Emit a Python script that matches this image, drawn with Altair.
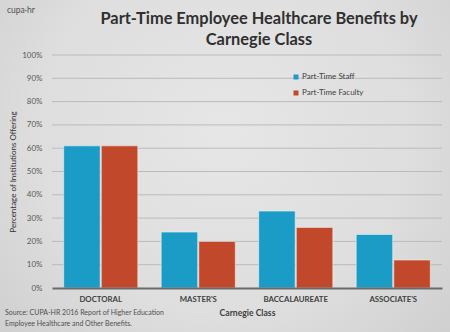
import altair as alt
import pandas as pd

categories = ["DOCTORAL", "MASTER'S", "BACCALAUREATE", "ASSOCIATE'S"]
series = ["Part-Time Staff", "Part-Time Faculty"]
staff = [61, 24, 33, 23]
faculty = [61, 20, 26, 12]
y_ticks = [0, 10, 20, 30, 40, 50, 60, 70, 80, 90, 100]
colors = ["#1B9CC6", "#C1482A"]
title_lines = ["Part-Time Employee Healthcare Benefits by", "Carnegie Class"]
source_lines = ["Source: CUPA-HR 2016 Report of Higher Education",
                "Employee Healthcare and Other Benefits."]

rows = []
for c, s, f in zip(categories, staff, faculty):
    rows.append({"cls": c, "series": series[0], "pct": s})
    rows.append({"cls": c, "series": series[1], "pct": f})
df = pd.DataFrame(rows)

FONT = "Lato"
YSCALE = alt.Scale(domain=[0, 100])

bg = alt.Chart(pd.DataFrame({"k": [0]})).mark_rect(
    color=alt.RadialGradient(
        gradient="radial", x1=0.5, y1=0.42, r1=0, x2=0.5, y2=0.42, r2=0.75,
        stops=[alt.GradientStop(color="#E6E6E6", offset=0),
               alt.GradientStop(color="#DEDEDE", offset=0.55),
               alt.GradientStop(color="#CBCBCB", offset=1)])
).encode(x=alt.value(-52), x2=alt.value(398), y=alt.value(-55), y2=alt.value(277))

grid = alt.Chart(pd.DataFrame({"v": y_ticks[1:]})).mark_rule(
    color="#BBBBBB", strokeWidth=1).encode(
    x=alt.value(0), x2=alt.value(390),
    y=alt.Y("v:Q", scale=YSCALE, axis=None),
)

bars = alt.Chart(df).mark_bar(stroke="#F2F2F2", strokeWidth=0.8, strokeOpacity=0.7).encode(
    x=alt.X("cls:N", sort=categories,
            scale=alt.Scale(paddingInner=0.24, paddingOuter=0.12),
            axis=alt.Axis(title="Carnegie Class", labelAngle=0, labelFont=FONT,
                          labelFontSize=7.8, labelFontWeight="bold", labelColor="#404040",
                          labelPadding=7, titleFont=FONT, titleFontSize=8.6,
                          titleFontWeight="bold", titleColor="#404040", titlePadding=6,
                          ticks=False, domain=True, domainColor="#6A6A6A",
                          domainWidth=2, zindex=1)),
    xOffset=alt.XOffset("series:N", sort=series, scale=alt.Scale(paddingInner=0.03)),
    y=alt.Y("pct:Q", scale=YSCALE,
            axis=alt.Axis(values=y_ticks, labelExpr="datum.value + '%'",
                          title="Percentage of Institutions Offering",
                          labelFont=FONT, labelFontSize=8, labelColor="#595959",
                          labelPadding=10, ticks=False, domain=False, grid=False,
                          titleFont=FONT, titleFontSize=8, titleFontWeight="normal",
                          titleColor="#303030", titlePadding=4, zindex=1)),
    color=alt.Color("series:N", sort=series,
                    scale=alt.Scale(domain=series, range=colors),
                    legend=alt.Legend(title=None, orient="none", legendX=240, legendY=18,
                                      symbolType="square", symbolSize=25,
                                      labelFont=FONT, labelFontSize=8, labelOffset=2,
                                      labelColor="#404040", rowPadding=8,
                                      symbolStrokeWidth=0)),
)

src = pd.DataFrame({"line": source_lines, "i": [0, 1]})
source = alt.Chart(src).mark_text(align="left", baseline="middle", font=FONT,
                                  fontSize=7, color="#505050").encode(
    x=alt.value(-47),
    y=alt.Y("i:Q", scale=alt.Scale(domain=[0, 1], range=[258, 269]), axis=None),
    text="line:N",
)

ttl = pd.DataFrame({"line": title_lines, "i": [0, 1]})
title = alt.Chart(ttl).mark_text(align="center", baseline="middle", font=FONT,
                                 fontSize=16.4, fontWeight="bold", color="#303030").encode(
    x=alt.value(207),
    y=alt.Y("i:Q", scale=alt.Scale(domain=[0, 1], range=[-36, -15]), axis=None),
    text="line:N",
)

logo = alt.Chart(pd.DataFrame({"t": ["cupa·hr"]})).mark_text(
    align="left", baseline="middle", font=FONT, fontSize=8.5,
    color="#505050").encode(x=alt.value(-45), y=alt.value(-45), text="t:N")

chart = alt.layer(bg, grid, bars, source, title, logo).properties(
    width=390, height=233,
    background="#DADADA",
    autosize=alt.AutoSizeParams(type="none"),
    padding={"left": 52, "top": 55, "right": 8, "bottom": 44},
).configure_view(stroke=None).resolve_scale(y="independent")

chart.save("out.html", embed_options={"renderer": "svg", "actions": False})
